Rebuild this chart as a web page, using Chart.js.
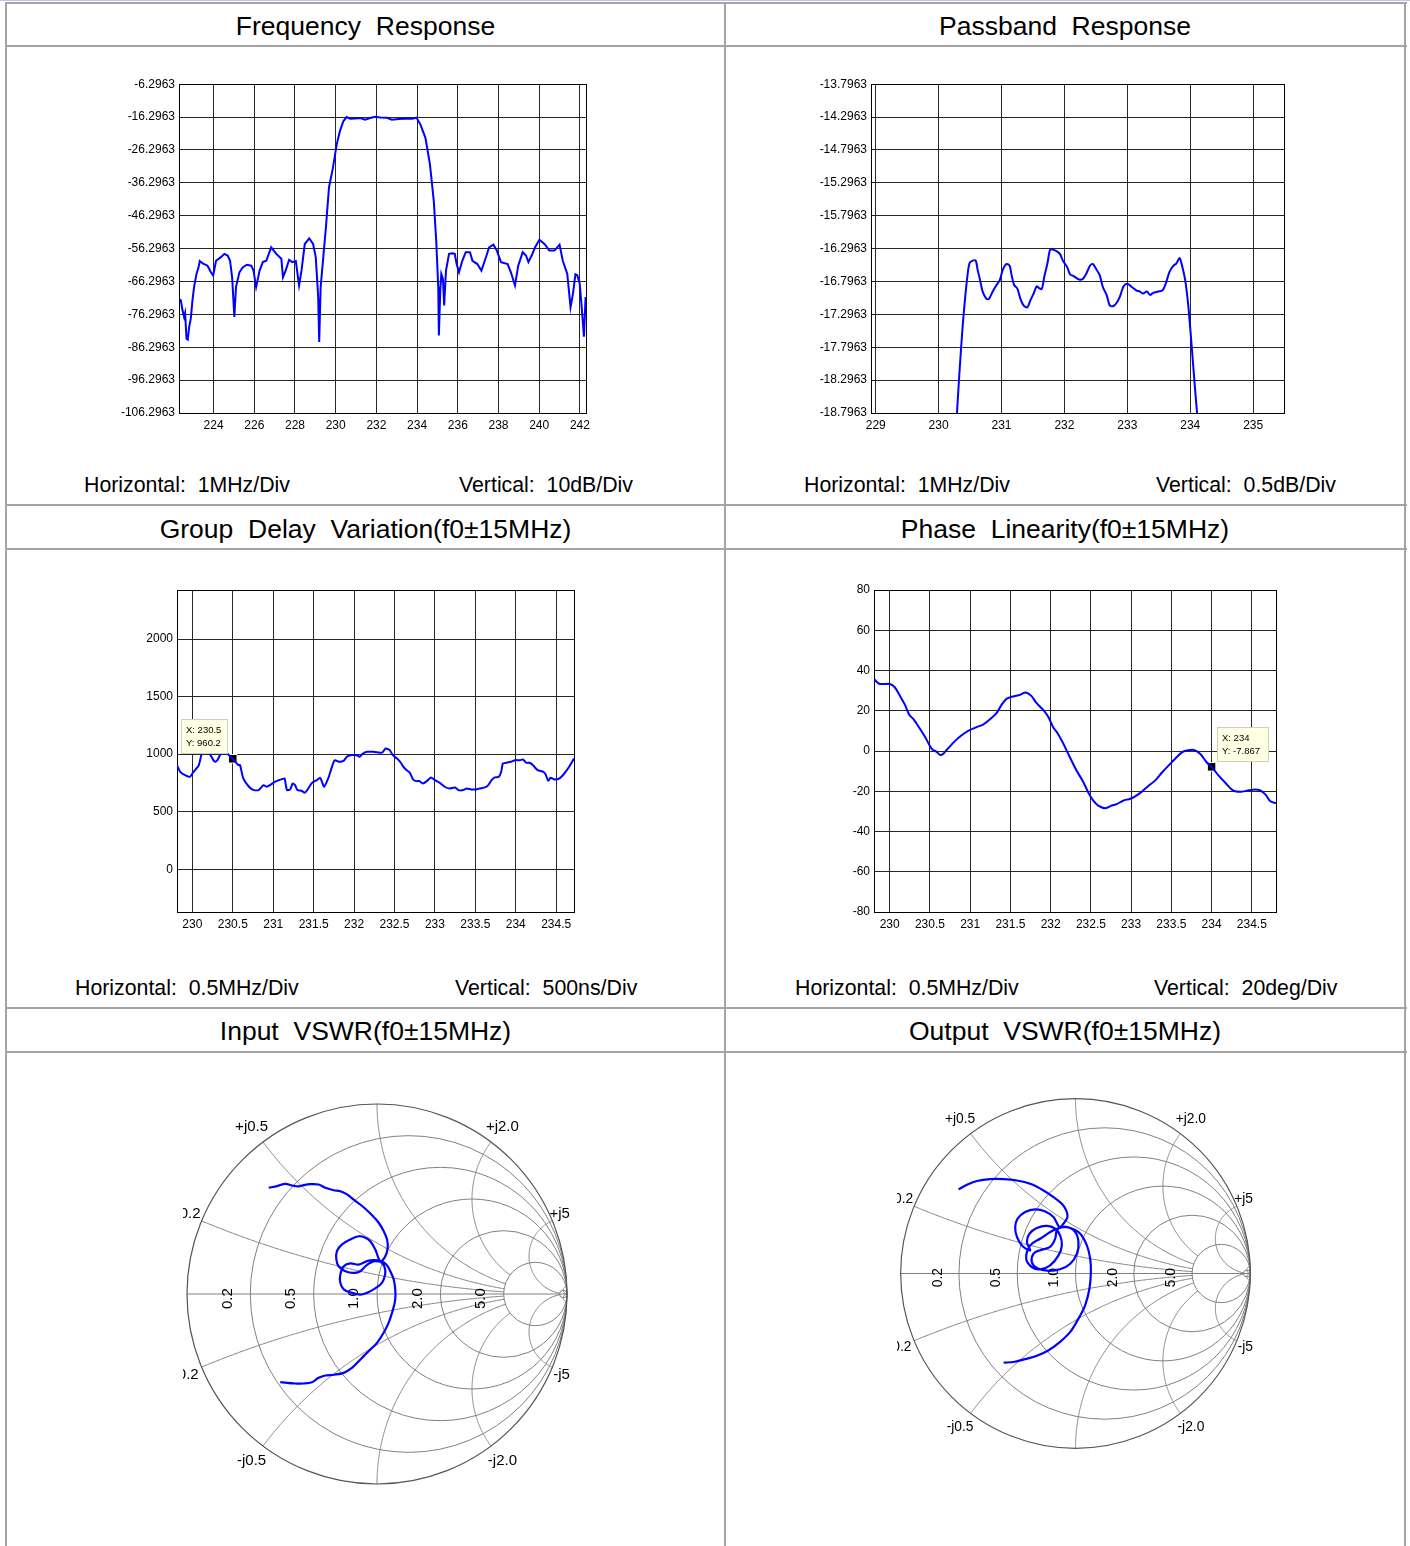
<!DOCTYPE html>
<html>
<head>
<meta charset="utf-8">
<script src="https://cdn.jsdelivr.net/npm/chart.js@4.4.1/dist/chart.umd.min.js"></script>
<style>
  body { margin: 0; width: 1410px; height: 1546px; position: relative; overflow: hidden; background: #fff;
         font-family: "Liberation Sans", Arial, sans-serif; color: #000; }
  .hl { position: absolute; height: 2px; background: #a4a4a4; }
  .vl { position: absolute; width: 2px; background: #a4a4a4; }
  .title { position: absolute; font-size: 26.5px; line-height: 30px; white-space: pre; text-align: center; }
  .cap { position: absolute; font-size: 21.3px; line-height: 24px; white-space: pre; }
  .box { position: absolute; }
</style>
</head>
<body>
<div class="hl" style="left:0;top:0;width:1410px;height:1px;background:#b8c8e0"></div>
<div class="hl" style="left:5px;top:2px;width:1402px"></div>
<div class="hl" style="left:5px;top:45px;width:1402px"></div>
<div class="hl" style="left:5px;top:504px;width:1402px"></div>
<div class="hl" style="left:5px;top:548px;width:1402px"></div>
<div class="hl" style="left:5px;top:1007px;width:1402px"></div>
<div class="hl" style="left:5px;top:1051px;width:1402px"></div>
<div class="vl" style="left:5px;top:2px;height:1544px"></div>
<div class="vl" style="left:724px;top:2px;height:1544px"></div>
<div class="vl" style="left:1404px;top:2px;height:1544px"></div>

<div class="title" style="left:6px;width:719px;top:11px">Frequency  Response</div>
<div class="title" style="left:725px;width:680px;top:11px">Passband  Response</div>
<div class="title" style="left:6px;width:719px;top:514px">Group  Delay  Variation(f0±15MHz)</div>
<div class="title" style="left:725px;width:680px;top:514px">Phase  Linearity(f0±15MHz)</div>
<div class="title" style="left:6px;width:719px;top:1016px">Input  VSWR(f0±15MHz)</div>
<div class="title" style="left:725px;width:680px;top:1016px">Output  VSWR(f0±15MHz)</div>

<div class="cap" style="left:84px;top:473px">Horizontal:  1MHz/Div</div>
<div class="cap" style="left:459px;top:473px">Vertical:  10dB/Div</div>
<div class="cap" style="left:804px;top:473px">Horizontal:  1MHz/Div</div>
<div class="cap" style="left:1156px;top:473px">Vertical:  0.5dB/Div</div>
<div class="cap" style="left:75px;top:976px">Horizontal:  0.5MHz/Div</div>
<div class="cap" style="left:455px;top:976px">Vertical:  500ns/Div</div>
<div class="cap" style="left:795px;top:976px">Horizontal:  0.5MHz/Div</div>
<div class="cap" style="left:1154px;top:976px">Vertical:  20deg/Div</div>

<div class="box" style="left:110px;top:73px;width:490px;height:370px"><canvas id="freq"></canvas></div>
<div class="box" style="left:810px;top:73px;width:490px;height:370px"><canvas id="pass"></canvas></div>
<div class="box" style="left:120px;top:575px;width:470px;height:360px"><canvas id="delay"></canvas></div>
<div class="box" style="left:830px;top:575px;width:460px;height:360px"><canvas id="phase"></canvas></div>
<div class="box" style="left:183px;top:1100px;width:388px;height:388px"><canvas id="vswrIn"></canvas></div>
<div class="box" style="left:897px;top:1095px;width:357px;height:357px"><canvas id="vswrOut"></canvas></div>

<script>
// frequency response, MHz / dB
const respFreq = [222.27,222.39,222.47,222.55,222.6,222.67,222.73,222.8,222.88,222.96,
  223.04,223.16,223.26,223.32,223.49,223.7,223.87,223.98,224.12,224.36,
  224.53,224.69,224.81,224.91,225.02,225.1,225.27,225.43,225.63,225.85,
  225.96,226.09,226.26,226.42,226.59,226.83,227.08,227.33,227.41,227.54,
  227.71,227.87,228.04,228.2,228.32,228.48,228.7,228.89,229.02,229.14,
  229.19,229.26,229.39,229.52,229.67,229.85,230.05,230.21,230.38,230.54,
  230.71,230.95,231.2,231.45,231.69,231.94,232.19,232.52,232.76,233.09,
  233.42,233.75,233.97,234.16,234.41,234.63,234.82,234.94,235.04,235.07,
  235.14,235.19,235.27,235.33,235.42,235.57,235.73,235.85,235.94,236.06,
  236.22,236.39,236.6,236.72,236.96,237.16,237.38,237.54,237.75,237.92,
  238.12,238.45,238.61,238.81,238.97,239.19,239.35,239.47,239.63,239.8,
  240.01,240.26,240.5,240.75,241.0,241.16,241.38,241.54,241.66,241.78,
  241.87,241.99,242.1,242.2,242.28];
const respDb = [-71.5,-72.0,-75.0,-77.1,-75.9,-83.7,-84.0,-80.1,-77.6,-72.1,
  -68.0,-64.0,-62.0,-60.1,-60.9,-61.5,-63.5,-64.5,-60.0,-58.9,
  -57.9,-58.4,-60.0,-65.0,-77.1,-68.0,-63.5,-62.0,-61.2,-61.5,
  -63.0,-68.0,-63.0,-60.4,-60.0,-55.9,-57.9,-59.4,-65.0,-63.0,
  -59.7,-60.4,-60.1,-67.5,-63.0,-54.9,-53.2,-54.9,-58.9,-71.0,
  -84.7,-68.0,-58.9,-49.8,-37.7,-32.2,-24.6,-20.5,-17.5,-16.3,
  -16.8,-16.7,-16.6,-17.1,-16.6,-16.2,-16.4,-16.5,-17.1,-16.9,
  -16.8,-16.8,-16.5,-18.5,-22.6,-30.6,-41.8,-53.9,-68.0,-82.7,
  -69.0,-64.0,-65.5,-73.6,-63.0,-57.9,-57.7,-57.9,-60.9,-63.5,
  -60.0,-57.4,-57.4,-60.0,-61.0,-63.0,-59.0,-55.9,-55.1,-56.9,
  -60.4,-61.0,-63.5,-67.5,-61.5,-57.4,-58.4,-60.4,-58.4,-55.9,
  -53.6,-54.9,-56.9,-56.9,-55.1,-60.0,-64.0,-74.1,-70.0,-64.1,
  -64.4,-66.9,-75.0,-83.1,-71.0];
const respXTicks = [224, 226, 228, 230, 232, 234, 236, 238, 240, 242];
const respYTicks = [-106.2963, -96.2963, -86.2963, -76.2963, -66.2963, -56.2963, -46.2963, -36.2963, -26.2963, -16.2963, -6.2963];

// passband response
const passFreq = [230.29,230.333,230.381,230.413,230.45,230.49,230.54,230.59,230.62,230.66,
  230.70,230.76,230.80,230.86,230.92,230.97,231.02,231.08,231.13,231.16,
  231.20,231.25,231.30,231.35,231.41,231.46,231.51,231.56,231.60,231.64,
  231.68,231.73,231.77,231.81,231.88,231.93,231.98,232.04,232.09,232.14,
  232.20,232.25,232.30,232.35,232.41,232.45,232.50,232.56,232.61,232.67,
  232.72,232.78,232.83,232.88,232.94,233.0,233.07,233.14,233.2,233.25,
  233.31,233.36,233.41,233.49,233.56,233.61,233.67,233.73,233.78,233.83,
  233.86,233.92,233.97,234.02,234.07,234.11];
const passDb = [-18.82,-18.15,-17.49,-17.13,-16.78,-16.52,-16.48,-16.48,-16.62,-16.78,
  -16.95,-17.06,-17.06,-16.95,-16.85,-16.78,-16.62,-16.53,-16.56,-16.70,
  -16.85,-16.9,-17.06,-17.16,-17.19,-17.08,-16.98,-16.87,-16.9,-16.91,
  -16.72,-16.52,-16.32,-16.31,-16.34,-16.38,-16.49,-16.57,-16.69,-16.71,
  -16.75,-16.77,-16.75,-16.67,-16.55,-16.53,-16.60,-16.70,-16.88,-17.0,
  -17.16,-17.17,-17.12,-17.03,-16.87,-16.83,-16.88,-16.93,-16.95,-16.98,
  -16.95,-17.0,-16.97,-16.95,-16.93,-16.83,-16.65,-16.56,-16.52,-16.44,
  -16.52,-16.78,-17.18,-17.75,-18.36,-18.82];
const passXTicks = [229, 230, 231, 232, 233, 234, 235];
const passYTicks = [-18.7963, -18.2963, -17.7963, -17.2963, -16.7963, -16.2963, -15.7963, -15.2963, -14.7963, -14.2963, -13.7963];

// group delay, ns
const delayFreq = [229.81,229.85,229.91,229.97,230.0,230.04,230.08,230.11,230.14,230.20,
  230.26,230.28,230.31,230.35,230.43,230.47,230.50,230.53,230.57,230.59,
  230.63,230.70,230.76,230.82,230.88,230.92,230.96,231.02,231.07,231.11,
  231.14,231.17,231.21,231.24,231.27,231.30,231.35,231.39,231.42,231.48,
  231.54,231.58,231.60,231.63,231.68,231.72,231.76,231.81,231.87,231.91,
  231.95,232.03,232.07,232.11,232.16,232.24,232.32,232.35,232.39,232.44,
  232.48,232.53,232.57,232.61,232.65,232.69,232.73,232.77,232.81,232.85,
  232.90,232.95,233.00,233.06,233.12,233.18,233.25,233.29,233.35,233.39,
  233.45,233.51,233.55,233.62,233.66,233.70,233.74,233.79,233.82,233.84,
  233.88,233.94,233.99,234.05,234.09,234.13,234.17,234.21,234.27,234.34,
  234.37,234.40,234.43,234.48,234.54,234.60,234.66,234.72];
const delayNs = [905,847,818,803,832,867,905,991,1049,1020,
  948,934,948,1000,1006,977,960.2,934,905,905,
  789,717,688,688,731,717,731,760,775,783,
  789,688,694,746,731,688,682,665,688,751,
  775,795,766,717,789,876,948,934,942,977,
  991,991,977,1006,1020,1020,1012,1014,1049,1035,
  991,962,934,890,861,838,780,766,766,746,
  766,798,775,751,717,702,711,688,688,702,
  694,694,702,711,731,775,798,803,847,919,
  925,934,948,948,954,925,925,905,861,847,
  824,769,795,780,789,832,890,962];
const delayMark = [230.5, 960.2];
const halfMHzTicks = [230, 230.5, 231, 231.5, 232, 232.5, 233, 233.5, 234, 234.5];
const delayYTicks = [0, 500, 1000, 1500, 2000];

// phase linearity, deg
const phaseFreq = [229.81,229.87,229.94,230.0,230.06,230.12,230.19,230.24,230.30,230.37,
  230.44,230.49,230.53,230.58,230.63,230.67,230.73,230.81,230.89,230.97,
  231.08,231.16,231.24,231.33,231.39,231.45,231.53,231.62,231.69,231.76,
  231.82,231.91,231.97,232.03,232.09,232.16,232.24,232.32,232.40,232.47,
  232.53,232.59,232.68,232.76,232.82,232.90,232.99,233.05,233.13,233.21,
  233.30,233.38,233.46,233.55,233.63,233.69,233.78,233.86,233.94,234.0,
  234.09,234.17,234.27,234.36,234.44,234.52,234.60,234.67,234.73,234.80];
const phaseDeg = [35.5,33.4,33.3,33.3,31.8,27.9,22.9,18.2,15.6,11.4,
  6.9,3.2,0.7,-0.3,-2.0,-1.2,1.5,4.9,7.7,9.9,
  11.9,13.1,15.6,19.0,22.9,25.9,27.1,27.9,29.1,27.4,
  24.0,20.3,17.0,11.9,8.6,3.5,-3.2,-9.6,-15.0,-20.8,
  -24.7,-27.1,-28.4,-27.1,-26.4,-24.7,-23.7,-22.5,-20.3,-17.5,
  -14.6,-10.8,-7.4,-3.7,-0.7,0.2,0.5,-1.5,-5.7,-7.867,
  -12.4,-15.8,-19.7,-20.3,-19.7,-19.2,-19.5,-21.7,-25.0,-25.9];
const phaseMark = [234, -7.867];
const phaseYTicks = [-80, -60, -40, -20, 0, 20, 40, 60, 80];

// reflection coefficient traces (real / imaginary)
const inRe = [-0.570,-0.526,-0.482,-0.447,-0.412,-0.386,-0.351,-0.307,-0.272,-0.228,
  -0.193,-0.158,-0.123,-0.088,-0.053,-0.018,0.009,0.035,0.053,0.056,
  0.044,0.018,-0.009,-0.035,-0.061,-0.096,-0.140,-0.184,-0.211,-0.214,
  -0.202,-0.167,-0.123,-0.088,-0.061,-0.035,-0.009,0.026,0.044,0.035,
  0.018,-0.018,-0.053,-0.088,-0.132,-0.175,-0.193,-0.193,-0.175,-0.140,
  -0.096,-0.053,-0.018,0.018,0.049,0.070,0.088,0.096,0.096,0.084,
  0.061,0.035,0.000,-0.035,-0.070,-0.096,-0.132,-0.175,-0.228,-0.272,
  -0.307,-0.342,-0.386,-0.430,-0.474,-0.509];
const inIm = [0.559,0.568,0.580,0.571,0.566,0.573,0.578,0.576,0.559,0.546,
  0.541,0.524,0.497,0.471,0.441,0.406,0.375,0.331,0.287,0.243,
  0.199,0.173,0.234,0.278,0.296,0.304,0.287,0.261,0.226,0.182,
  0.146,0.120,0.111,0.120,0.146,0.164,0.173,0.164,0.120,0.076,
  0.050,0.024,0.006,-0.003,0.006,0.024,0.059,0.103,0.146,0.161,
  0.155,0.173,0.178,0.173,0.155,0.120,0.076,0.024,-0.029,-0.082,
  -0.152,-0.204,-0.257,-0.292,-0.327,-0.354,-0.389,-0.415,-0.425,-0.429,
  -0.441,-0.464,-0.471,-0.471,-0.468,-0.464];
const outRe = [-0.669,-0.621,-0.564,-0.488,-0.411,-0.335,-0.259,-0.183,-0.126,-0.078,
  -0.053,-0.046,-0.065,-0.091,-0.126,-0.173,-0.230,-0.288,-0.331,-0.345,
  -0.335,-0.307,-0.278,-0.259,-0.278,-0.263,-0.221,-0.164,-0.116,-0.088,
  -0.078,-0.097,-0.145,-0.202,-0.250,-0.282,-0.26,-0.2,-0.12,-0.05,
  -0.002,0.017,0.008,-0.030,-0.088,-0.164,-0.221,-0.250,-0.240,-0.202,
  -0.145,-0.116,-0.107,-0.078,-0.030,0.027,0.065,0.084,0.088,0.080,
  0.055,0.017,-0.030,-0.088,-0.154,-0.221,-0.288,-0.354,-0.411];
const outIm = [0.481,0.507,0.529,0.540,0.540,0.532,0.513,0.475,0.437,0.399,
  0.361,0.323,0.290,0.266,0.323,0.355,0.367,0.352,0.314,0.266,
  0.209,0.161,0.138,0.133,0.180,0.228,0.260,0.272,0.256,0.218,
  0.161,0.104,0.047,0.024,0.037,0.085,0.16,0.2,0.25,0.266,
  0.237,0.180,0.114,0.056,0.024,0.016,0.032,0.066,0.114,0.133,
  0.152,0.199,0.247,0.266,0.260,0.228,0.161,0.085,0.009,-0.086,
  -0.182,-0.258,-0.334,-0.391,-0.439,-0.471,-0.490,-0.506,-0.510];

// smith chart grid values
const smithRes = [0.2, 0.5, 1, 2, 5, 50];
const smithReact = [[0.2, 5], [0.5, 5], [1, 5], [2, 5], [5, 50], [50, 1000]];
const smithResLabels = ['0.2', '0.5', '1.0', '2.0', '5.0'];
const smithReactLabels = [[0.2, '0.2'], [0.5, '0.5'], [2, '2.0'], [5, '5']];

const FONT = '"Liberation Sans", Arial, sans-serif';
Chart.defaults.font.family = FONT;
Chart.defaults.font.size = 12;
Chart.defaults.color = '#000';

const pairs = (xs, ys) => xs.map((x, i) => ({ x, y: ys[i] }));

const frame = {
  id: 'frame',
  beforeDatasetsDraw(chart) {
    const { ctx, chartArea: a } = chart;
    ctx.save();
    ctx.strokeStyle = '#000';
    ctx.lineWidth = 1;
    ctx.strokeRect(Math.round(a.left) + 0.5, Math.round(a.top) + 0.5, Math.round(a.width), Math.round(a.height));
    ctx.restore();
  }
};

const datatip = {
  id: 'datatip',
  afterDatasetsDraw(chart, args, o) {
    if (!o || !o.lines) return;
    const { ctx, scales: { x, y } } = chart;
    const bx = Math.round(x.getPixelForValue(o.at[0]) + o.dx);
    const by = Math.round(y.getPixelForValue(o.at[1]) + o.dy);
    ctx.save();
    ctx.fillStyle = '#ffffe4';
    ctx.strokeStyle = '#cfcfbd';
    ctx.fillRect(bx, by, o.w, o.h);
    ctx.strokeRect(bx + 0.5, by + 0.5, o.w, o.h);
    ctx.fillStyle = '#000';
    ctx.font = '9.5px ' + FONT;
    ctx.textBaseline = 'middle';
    o.lines.forEach((s, i) => ctx.fillText(s, bx + 5, by + 11 + i * 13));
    ctx.restore();
  }
};

function createTraceChart(id, xs, ys, o) {
  const datasets = [{
    data: pairs(xs, ys),
    borderColor: '#0000ff',
    borderWidth: 2,
    pointRadius: 0,
    tension: o.tension || 0,
  }];
  if (o.mark) {
    datasets.push({
      data: [{ x: o.mark[0], y: o.mark[1] }],
      showLine: false,
      pointStyle: 'rect',
      pointRadius: 6,
      backgroundColor: '#000',
      borderColor: '#fff8d0',
      borderWidth: 1,
    });
  }
  const axis = (min, max, ticks, fmt, size, isY) => ({
    type: 'linear',
    min, max,
    afterBuildTicks: s => { s.ticks = ticks.map(v => ({ value: v })); },
    afterFit: s => { if (isY) s.width = size; else s.height = size; },
    grid: { color: '#262626', lineWidth: 1, drawTicks: false },
    border: { color: '#000', width: 1 },
    ticks: { padding: isY ? 4 : 5, autoSkip: false, maxRotation: 0, callback: fmt },
  });
  return new Chart(document.getElementById(id), {
    type: 'line',
    data: { datasets },
    options: {
      responsive: true,
      maintainAspectRatio: false,
      animation: false,
      layout: { padding: { top: o.pad[0], right: o.pad[1], bottom: 0, left: 0 } },
      plugins: {
        legend: { display: false },
        tooltip: { enabled: false },
        datatip: o.tip || false,
      },
      scales: {
        x: axis(o.x[0], o.x[1], o.xTicks, v => String(v), o.xH, false),
        y: axis(o.y[0], o.y[1], o.yTicks, o.yFmt, o.yW, true),
      },
    },
    plugins: [frame, datatip],
  });
}

createTraceChart('freq', respFreq, respDb, {
  x: [222.3, 242.3], y: [-106.2963, -6.2963],
  xTicks: respXTicks, yTicks: respYTicks, yFmt: v => v.toFixed(4),
  pad: [10, 14], xH: 30, yW: 69,
});

createTraceChart('pass', passFreq, passDb, {
  x: [228.925, 235.49], y: [-18.7963, -13.7963],
  xTicks: passXTicks, yTicks: passYTicks, yFmt: v => v.toFixed(4),
  pad: [10, 16], xH: 30, yW: 61, tension: 0.3,
});

createTraceChart('delay', delayFreq, delayNs, {
  x: [229.81, 234.72], y: [-371, 2426],
  xTicks: halfMHzTicks, yTicks: delayYTicks, yFmt: v => String(v),
  pad: [15, 16], xH: 23, yW: 57, tension: 0.2,
  mark: delayMark,
  tip: { at: delayMark, dx: -52, dy: -40, w: 46, h: 34, lines: ['X: 230.5', 'Y: 960.2'] },
});

createTraceChart('phase', phaseFreq, phaseDeg, {
  x: [229.805, 234.8], y: [-80, 80],
  xTicks: halfMHzTicks, yTicks: phaseYTicks, yFmt: v => String(v),
  pad: [15, 14], xH: 23, yW: 44, tension: 0.3,
  mark: phaseMark,
  tip: { at: phaseMark, dx: 5, dy: -40, w: 51, h: 34, lines: ['X: 234', 'Y: -7.867'] },
});

// reflection coefficient of normalised impedance r + jx
function gamma(r, x) {
  const d = (r + 1) * (r + 1) + x * x;
  return [(r * r - 1 + x * x) / d, (2 * x) / d];
}

const smithGrid = {
  id: 'smithGrid',
  beforeDatasetsDraw(chart) {
    const { ctx, chartArea: a, scales: { x, y } } = chart;
    const px = v => x.getPixelForValue(v);
    const py = v => y.getPixelForValue(v);
    const R = px(1) - px(0);
    ctx.save();
    ctx.beginPath();
    ctx.rect(a.left, a.top, a.width, a.height);
    ctx.clip();
    ctx.strokeStyle = '#808080';
    ctx.lineWidth = 1;

    smithRes.forEach(r => {
      ctx.beginPath();
      ctx.arc(px(r / (1 + r)), py(0), R / (1 + r), 0, Math.PI * 2);
      ctx.stroke();
    });

    smithReact.forEach(([xv, rMax]) => {
      [xv, -xv].forEach(xx => {
        ctx.beginPath();
        const tMax = rMax / (1 + rMax);
        for (let i = 0; i <= 240; i++) {
          const t = (i / 240) * tMax;
          const g = gamma(t / (1 - t), xx);
          if (i) ctx.lineTo(px(g[0]), py(g[1]));
          else ctx.moveTo(px(g[0]), py(g[1]));
        }
        ctx.stroke();
      });
    });

    ctx.beginPath();
    ctx.moveTo(px(-1), py(0));
    ctx.lineTo(px(1), py(0));
    ctx.stroke();

    ctx.strokeStyle = '#555';
    ctx.lineWidth = 1.2;
    ctx.beginPath();
    ctx.arc(px(0), py(0), R, 0, Math.PI * 2);
    ctx.stroke();

    // labels
    const fs = (15 * R / 190).toFixed(1);
    ctx.fillStyle = '#000';
    ctx.font = fs + 'px ' + FONT;
    ctx.textBaseline = 'middle';
    smithReactLabels.forEach(([xv, txt]) => {
      [1, -1].forEach(sign => {
        const u = gamma(0, sign * xv);
        ctx.textAlign = xv >= 5 ? 'right' : 'center';
        ctx.fillText((sign > 0 ? '+j' : '-j') + txt, px(u[0] * 1.1), py(u[1] * 1.1));
      });
    });
    ctx.textAlign = 'center';
    smithRes.slice(0, 5).forEach((r, i) => {
      const edge = (r - 1) / (r + 1);
      ctx.save();
      ctx.translate(px(edge - 0.12), py(-0.024));
      ctx.rotate(-Math.PI / 2);
      ctx.fillText(smithResLabels[i], 0, 0);
      ctx.restore();
    });
    ctx.restore();
  }
};

function createSmithChart(id, re, im) {
  const lim = { min: -1.021, max: 1.021, display: false };
  return new Chart(document.getElementById(id), {
    type: 'scatter',
    data: {
      datasets: [{
        data: pairs(re, im),
        showLine: true,
        borderColor: '#0000ff',
        borderWidth: 2.2,
        pointRadius: 0,
        tension: 0.35,
      }],
    },
    options: {
      responsive: true,
      maintainAspectRatio: false,
      animation: false,
      layout: { padding: 0 },
      plugins: { legend: { display: false }, tooltip: { enabled: false } },
      scales: { x: { ...lim }, y: { ...lim } },
    },
    plugins: [smithGrid],
  });
}

createSmithChart('vswrIn', inRe, inIm);
createSmithChart('vswrOut', outRe, outIm);
</script>
</body>
</html>
